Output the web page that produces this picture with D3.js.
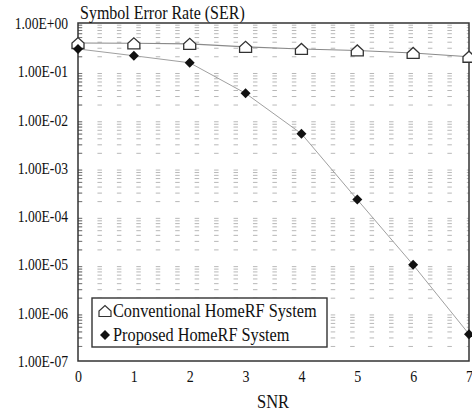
<!DOCTYPE html>
<html><head><meta charset="utf-8">
<script src="https://cdn.jsdelivr.net/npm/d3@7"></script>
<style>
html,body{margin:0;padding:0;background:#fff;}
</style></head>
<body><svg id="c" width="472" height="412" style="font-family:'Liberation Serif'"></svg>
<script>
const snr = [0, 1, 2, 3, 4, 5, 6, 7];
const conventional = [0.385, 0.38, 0.37, 0.32, 0.29, 0.27, 0.24, 0.20];
const proposed = [0.29, 0.21, 0.15, 0.035, 0.0051, 2.2e-4, 9.8e-6, 3.6e-7];
const yTickValues = [1, 1e-1, 1e-2, 1e-3, 1e-4, 1e-5, 1e-6, 1e-7];
const yTickLabels = ["1.00E+00", "1.00E-01", "1.00E-02", "1.00E-03", "1.00E-04", "1.00E-05", "1.00E-06", "1.00E-07"];
const seriesNames = ["Conventional HomeRF System", "Proposed HomeRF System"];
const titleText = "Symbol Error Rate (SER)";
const xTitle = "SNR";

const FONT = "font-family:'Liberation Serif';";
const svg = d3.select("#c");
const L = 78, R = 469, T = 23, B = 361;
const x = d3.scaleLinear().domain([0, 7]).range([L, R]);
const y = d3.scaleLog().domain([1e-7, 1]).range([B, T]);

const minor = [];
for (let k = -7; k < 0; k++) for (let m = 2; m <= 9; m++) minor.push(m * Math.pow(10, k));

svg.append("g").selectAll("line").data(minor).join("line")
  .attr("x1", L).attr("x2", R)
  .attr("y1", d => y(d)).attr("y2", d => y(d))
  .attr("stroke", "#b8b8b8").attr("stroke-width", 1)
  .attr("stroke-dasharray", "4.5,14.94");

svg.append("g").selectAll("line").data(minor).join("line")
  .attr("x1", L).attr("x2", L + 4)
  .attr("y1", d => y(d)).attr("y2", d => y(d))
  .attr("stroke", "#777").attr("stroke-width", 1);

const line = d3.line().x((d, i) => x(snr[i])).y(d => y(d));
svg.append("path").datum(conventional).attr("d", line)
  .attr("fill", "none").attr("stroke", "#8a8a8a").attr("stroke-width", 1.1);
svg.append("path").datum(proposed).attr("d", line)
  .attr("fill", "none").attr("stroke", "#a0a0a0").attr("stroke-width", 1);

svg.append("rect").attr("x", L).attr("y", T).attr("width", R - L).attr("height", B - T)
  .attr("fill", "none").attr("stroke", "#333").attr("stroke-width", 1.5);

const yAxis = svg.append("g").attr("transform", `translate(${L},0)`)
  .call(d3.axisLeft(y).tickValues(yTickValues).tickFormat((d, i) => yTickLabels[i]).tickSize(0).tickPadding(10));
yAxis.attr("font-family", null).attr("font-size", null);
yAxis.select(".domain").remove();
yAxis.selectAll("text").attr("dy", null).attr("y", null)
  .attr("transform", "translate(0,5.5) scale(1,1.28)")
  .attr("style", FONT + "font-size:13.6px").attr("fill", "#111");

const xAxis = svg.append("g").attr("transform", `translate(0,${B})`)
  .call(d3.axisBottom(x).tickValues(snr).tickFormat(d3.format("d")).tickSize(0).tickPadding(0));
xAxis.attr("font-family", null).attr("font-size", null);
xAxis.select(".domain").remove();
xAxis.selectAll("text").attr("dy", null).attr("y", null)
  .attr("transform", "translate(0,21) scale(1,1.15)")
  .attr("style", FONT + "font-size:14px").attr("fill", "#111");

function house(cx, cy) {
  const w = 6, top = cy - 6.5, eave = cy - 1, bot = cy + 4.5;
  return `M${cx - w},${bot} L${cx - w},${eave} L${cx},${top} L${cx + w},${eave} L${cx + w},${bot} Z`;
}
function diamond(cx, cy) {
  const r = 5;
  return `M${cx},${cy - r} L${cx + r},${cy} L${cx},${cy + r} L${cx - r},${cy} Z`;
}

svg.append("g").selectAll("path").data(conventional).join("path")
  .attr("d", (d, i) => house(x(snr[i]), y(d) + 1))
  .attr("fill", "#fff").attr("stroke", "#333").attr("stroke-width", 1.3);
svg.append("g").selectAll("path").data(proposed).join("path")
  .attr("d", (d, i) => diamond(x(snr[i]), y(d)))
  .attr("fill", "#111");

svg.append("text").attr("transform", "translate(80,19) scale(1,1.2)")
  .attr("style", FONT + "font-size:16px").attr("fill", "#111").text(titleText);
svg.append("text").attr("text-anchor", "middle").attr("transform", "translate(273,408) scale(1,1.1)")
  .attr("style", FONT + "font-size:16.5px").attr("fill", "#111").text(xTitle);

const lg = svg.append("g");
lg.append("rect").attr("x", 92).attr("y", 298).attr("width", 235).attr("height", 49)
  .attr("fill", "#fff").attr("stroke", "#333").attr("stroke-width", 1.4);
lg.append("path").attr("d", house(105, 312)).attr("fill", "#fff").attr("stroke", "#333").attr("stroke-width", 1.2);
lg.append("path").attr("d", diamond(105, 335)).attr("fill", "#111");
lg.append("text").attr("transform", "translate(113,317) scale(1,1.22)")
  .attr("style", FONT + "font-size:16.3px").attr("fill", "#111").text(seriesNames[0]);
lg.append("text").attr("transform", "translate(113,341) scale(1,1.22)")
  .attr("style", FONT + "font-size:16.3px").attr("fill", "#111").text(seriesNames[1]);
</script></body></html>
